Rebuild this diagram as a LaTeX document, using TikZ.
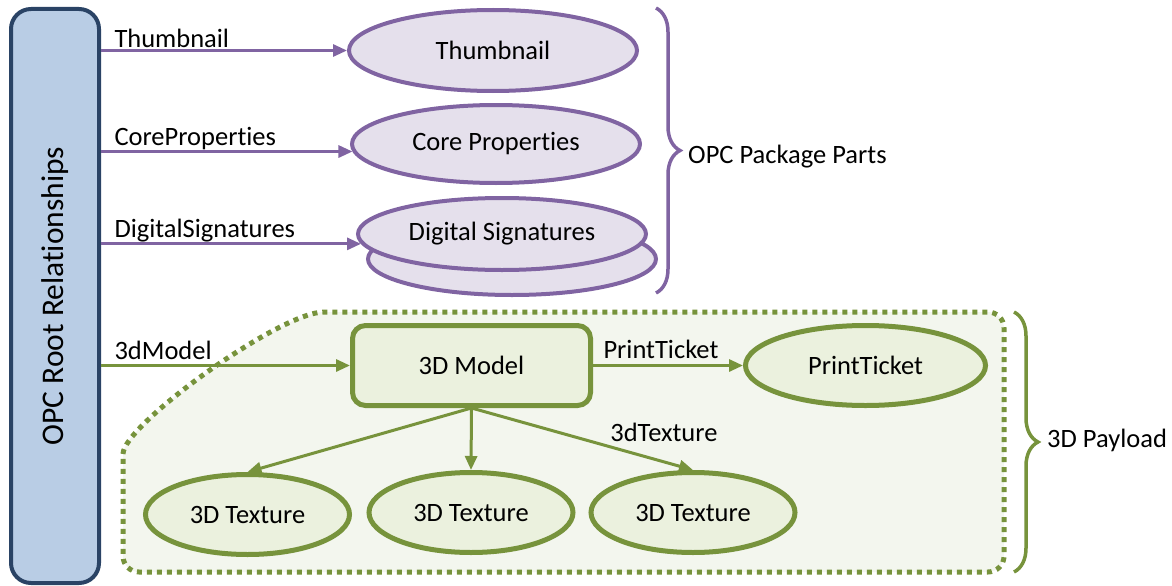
\documentclass[tikz,border=0pt]{standalone}
\usepackage{fontspec}
\setmainfont{Carlito}[Ligatures=NoCommon]
\usetikzlibrary{shapes.geometric,arrows.meta,decorations.pathreplacing}

\definecolor{opcline}{HTML}{8064A2}
\definecolor{opcfill}{HTML}{E5E0EC}
\definecolor{rootline}{HTML}{2A4365}
\definecolor{rootfill}{HTML}{B9CDE5}
\definecolor{payline}{HTML}{77933C}
\definecolor{payfill}{HTML}{EBF1DE}
\definecolor{payback}{HTML}{F3F6EE}

\begin{document}
\begin{tikzpicture}[x=1pt,y=-1pt,
    font=\fontsize{26.5}{32}\selectfont,
    opcpart/.style={ellipse,draw=opcline,fill=opcfill,line width=4pt,inner sep=0pt,minimum width=288pt,minimum height=78pt},
    paypart/.style={ellipse,draw=payline,fill=payfill,line width=5pt,inner sep=0pt,minimum width=204pt,minimum height=80pt},
    opcarrow/.style={draw=opcline,line width=3pt,-{Triangle[length=14pt,width=12pt]}},
    payarrow/.style={draw=payline,line width=3pt,-{Triangle[length=14pt,width=12pt]}},
    rellabel/.style={anchor=base west,inner sep=0pt},
    bracket/.style={line width=3.5pt,decorate,decoration={brace,amplitude=24pt}}]
    \useasboundingbox (0,0) rectangle (1172,586);

    % payload area behind everything
    \draw[draw=payline,fill=payback,line width=5pt,dash pattern=on 5pt off 5pt,rounded corners=16pt]
        (123,470) .. controls (123,425) and (280,312) .. (340,312) -- (1004,312) -- (1004,572) -- (123,572) -- cycle;

    \node[draw=rootline,fill=rootfill,line width=4pt,rounded corners=20pt,minimum width=88pt,minimum height=574pt,inner sep=0pt]
        (root) at (55,296) {\rotatebox{90}{\fontsize{31.5}{36}\selectfont OPC Root Relationships}};

    % package parts
    \node[opcpart,minimum height=81pt] (thumb) at (493,50.5) {Thumbnail};
    \node[opcpart] (core) at (496,144) {Core Properties};
    \node[opcpart,minimum height=72pt] (dsback) at (512,259) {};
    \node[opcpart,minimum height=72pt] (ds) at (502,234) {Digital Signatures};

    \draw[opcarrow] (root.east |- thumb.west) -- node[rellabel,pos=0,xshift=12pt,yshift=3pt] {Thumbnail} (thumb.west);
    \draw[opcarrow] (root.east |- core.183) -- node[rellabel,pos=0,xshift=12pt,yshift=6pt] {CoreProperties} (core.183);
    \draw[opcarrow] (root.east |- ds.184) -- node[rellabel,pos=0,xshift=12pt,yshift=6pt] {DigitalSignatures} (ds.184);

    % 3d payload
    \node[draw=payline,fill=payfill,line width=5pt,rounded corners=13pt,minimum width=238pt,minimum height=80pt] (model) at (471.5,365.5) {3D Model};
    \node[paypart,minimum width=240pt] (ticket) at (865.5,365.5) {PrintTicket};
    \node[paypart] (tex1) at (247.5,514.5) {3D Texture};
    \node[paypart] (tex2) at (471,512.5) {3D Texture};
    \node[paypart] (tex3) at (693,512.5) {3D Texture};

    \draw[payarrow] (root.east |- model.west) -- node[rellabel,pos=0,xshift=12pt,yshift=6pt] {3dModel} (model.west);
    \draw[payarrow] (model.east) -- node[rellabel,pos=0,xshift=9pt,yshift=7pt] {PrintTicket} (ticket.west);
    \draw[payarrow] (model.south) -- (tex1.north);
    \draw[payarrow] (model.south) -- (tex2.north);
    \draw[payarrow] (model.south) -- node[rellabel,pos=0.62,yshift=5pt] {3dTexture} (tex3.north);

    % braces
    \draw[bracket,opcline] (656,8) -- (656,293);
    \node[rellabel] (opcparts) at (688,163) {OPC Package Parts};
    \draw[bracket,payline] (1014,312) -- (1014,572);
    \node[rellabel] (payparts) at (1047,447) {3D Payload};
\end{tikzpicture}
\end{document}
